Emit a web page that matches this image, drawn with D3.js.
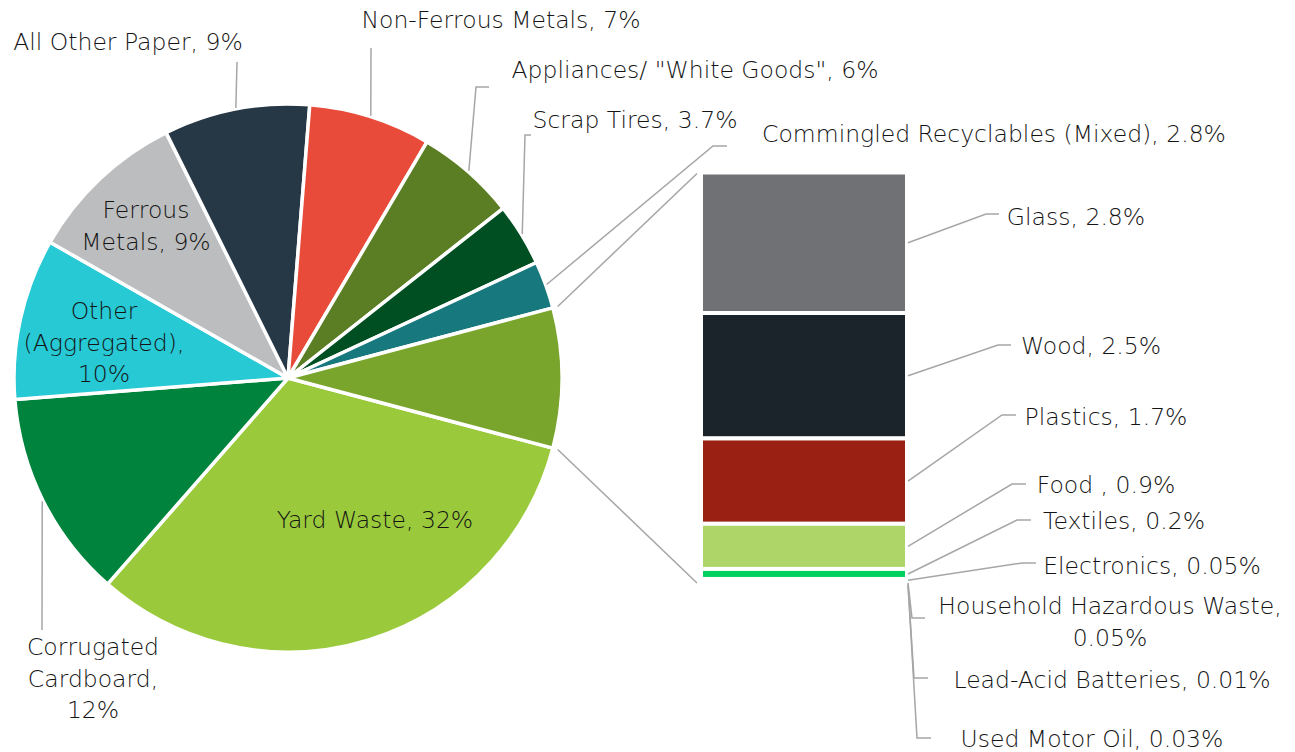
<!DOCTYPE html>
<html>
<head>
<meta charset="utf-8">
<script src="https://cdn.jsdelivr.net/npm/d3@7"></script>
<style>
    html, body { margin: 0; padding: 0; background: #fff; }
    #chart text { font-family: "DejaVu Sans", sans-serif; font-weight: 200; font-size: 23.5px; fill: #141414; }
    .leader { fill: none; stroke: #a6a6a6; stroke-width: 1.5; }
</style>
</head>
<body>
<div id="chart"></div>
<script>
//Datos del gráfico
const pieNames = ['Yard Waste', 'Corrugated Cardboard', 'Other (Aggregated)', 'Ferrous Metals', 'All Other Paper',
    'Non-Ferrous Metals', 'Appliances/ "White Goods"', 'Scrap Tires', 'Commingled Recyclables (Mixed)'];
const pieValues = [32.3, 12.3, 9.5, 9.4, 8.6, 7.2, 5.9, 3.7, 2.8];
const pieLabels = ['32%', '12%', '10%', '9%', '9%', '7%', '6%', '3.7%', '2.8%'];
const pieColors = ['#9aca3c', '#00843d', '#26c9d4', '#bcbdbf', '#263746', '#e84b39', '#5b7d23', '#004f23', '#17787e'];

const barNames = ['Glass', 'Wood', 'Plastics', 'Food ', 'Textiles', 'Electronics', 'Household Hazardous Waste',
    'Lead-Acid Batteries', 'Used Motor Oil'];
const barValues = [2.8, 2.5, 1.7, 0.9, 0.2, 0.05, 0.05, 0.01, 0.03];
const barLabels = ['2.8%', '2.5%', '1.7%', '0.9%', '0.2%', '0.05%', '0.05%', '0.01%', '0.03%'];
const barColors = ['#6f7175', '#1b232b', '#9a2013', '#aed568', '#00d15e', '#00d15e', '#00d15e', '#00d15e', '#00d15e'];
const otherColor = '#7aa52d';

//Posición de las etiquetas (líneas de texto, centro y codos de la línea guía)
const pieLabelLayout = [
    {lines: ['Yard Waste, 32%'], x: 375, y: 520, inside: true},
    {lines: ['Corrugated', 'Cardboard,', '12%'], x: 93, y: 647, path: [[42, 630]]},
    {lines: ['Other', '(Aggregated),', '10%'], x: 104, y: 311, inside: true},
    {lines: ['Ferrous', 'Metals, 9%'], x: 146, y: 210, inside: true},
    {lines: ['All Other Paper, 9%'], x: 128, y: 42, path: [[237, 62]]},
    {lines: ['Non-Ferrous Metals, 7%'], x: 501, y: 20, path: [[371, 48]]},
    {lines: ['Appliances/ "White Goods", 6%'], x: 695, y: 70, path: [[476, 87], [489, 87]]},
    {lines: ['Scrap Tires, 3.7%'], x: 635, y: 120, path: [[525, 135], [531, 135]]},
    {lines: ['Commingled Recyclables (Mixed), 2.8%'], x: 994, y: 134, path: [[713, 146], [727, 146]]}
];
const barLabelLayout = [
    {lines: ['Glass, 2.8%'], x: 1076, y: 217, path: [[986, 214], [999, 214]]},
    {lines: ['Wood, 2.5%'], x: 1091, y: 346, path: [[998, 345], [1011, 345]]},
    {lines: ['Plastics, 1.7%'], x: 1106, y: 417, path: [[1002, 415], [1016, 415]]},
    {lines: ['Food , 0.9%'], x: 1106, y: 485, path: [[1012, 484], [1026, 484]]},
    {lines: ['Textiles, 0.2%'], x: 1124, y: 521, path: [[1017, 520], [1031, 520]]},
    {lines: ['Electronics, 0.05%'], x: 1152, y: 566, path: [[1022, 563], [1036, 563]]},
    {lines: ['Household Hazardous Waste,', '0.05%'], x: 1110, y: 606, path: [[912, 618], [925, 618]]},
    {lines: ['Lead-Acid Batteries, 0.01%'], x: 1112, y: 680, path: [[914, 678], [928, 678]]},
    {lines: ['Used Motor Oil, 0.03%'], x: 1092, y: 739, path: [[917, 738], [931, 738]]}
];

const width = 1295, height = 752;
const cx = 288, cy = 378, radius = 274;
const lineHeight = 31.5;

let svg = d3.select('#chart')
    .append('svg')
        .attr('width', width)
        .attr('height', height);

//Tarta
let otherTotal = d3.sum(barValues);
let pieData = pieValues.concat([otherTotal]);
let otherAngle = otherTotal / d3.sum(pieData) * 2 * Math.PI;
let start = Math.PI / 2 + otherAngle / 2;

let pie = d3.pie()
    .sort(null)
    .value(function(d) { return d; })
    .startAngle(start)
    .endAngle(start + 2 * Math.PI);

let arcs = pie(pieData);

let arc = d3.arc().innerRadius(0).outerRadius(radius);
let edge = d3.arc().innerRadius(radius + 1).outerRadius(radius + 1);

let gPie = svg.append('g')
    .attr('transform', 'translate(' + cx + ',' + cy + ')');

gPie.selectAll('path')
    .data(arcs)
    .enter()
    .append('path')
    .attr('d', arc)
    .attr('fill', function(d, i) { return i < pieColors.length ? pieColors[i] : otherColor; })
    .attr('stroke', '#fff')
    .attr('stroke-width', 3.5)
    .attr('stroke-linejoin', 'round');

//Barra
let barTop = 172.5, barBottom = 586;
let y = d3.scaleLinear()
    .domain([0, otherTotal])
    .range([barTop, barBottom]);
let x = d3.scaleLinear()
    .domain([0, 1])
    .range([701, 907]);

let cum = d3.cumsum(barValues);
let barData = barValues.map(function(v, i) { return {v: v, y0: cum[i] - v, y1: cum[i], i: i}; });

svg.append('g')
    .selectAll('rect')
    .data(barData)
    .enter()
    .append('rect')
    .attr('x', x(0))
    .attr('width', x(1) - x(0))
    .attr('y', function(d) { return y(d.y0); })
    .attr('height', function(d) { return y(d.y1) - y(d.y0); })
    .attr('fill', function(d) { return barColors[d.i]; })
    .attr('stroke', '#fff')
    .attr('stroke-width', 4);

//Líneas de serie entre tarta y barra
let oArc = arcs[arcs.length - 1];
let serie = [
    [[cx + (radius + 5) * Math.sin(oArc.startAngle), cy - (radius + 5) * Math.cos(oArc.startAngle)], [x(0) - 4, y(0) + 1]],
    [[cx + (radius + 5) * Math.sin(oArc.endAngle), cy - (radius + 5) * Math.cos(oArc.endAngle)], [x(0) - 4, y(otherTotal) - 3]]
];
svg.selectAll('.serie')
    .data(serie)
    .enter()
    .append('path')
    .attr('class', 'leader')
    .attr('d', d3.line());

//Etiquetas
function drawLabel(lay, startPoint) {
    if (startPoint && lay.path) {
        svg.append('path')
            .attr('class', 'leader')
            .attr('d', d3.line()([startPoint].concat(lay.path)));
    }
    let t = svg.append('text')
        .attr('text-anchor', 'middle')
        .attr('dominant-baseline', 'central');
    lay.lines.forEach(function(l, k) {
        t.append('tspan')
            .attr('x', lay.x)
            .attr('y', lay.y + k * lineHeight)
            .text(l);
    });
}

arcs.slice(0, pieNames.length).forEach(function(d, i) {
    let c = edge.centroid(d);
    drawLabel(pieLabelLayout[i], [cx + c[0], cy + c[1]]);
});

barData.forEach(function(d) {
    let midY = (y(d.y0) + y(d.y1)) / 2;
    drawLabel(barLabelLayout[d.i], [x(1) + 1, midY]);
});
</script>
</body>
</html>
